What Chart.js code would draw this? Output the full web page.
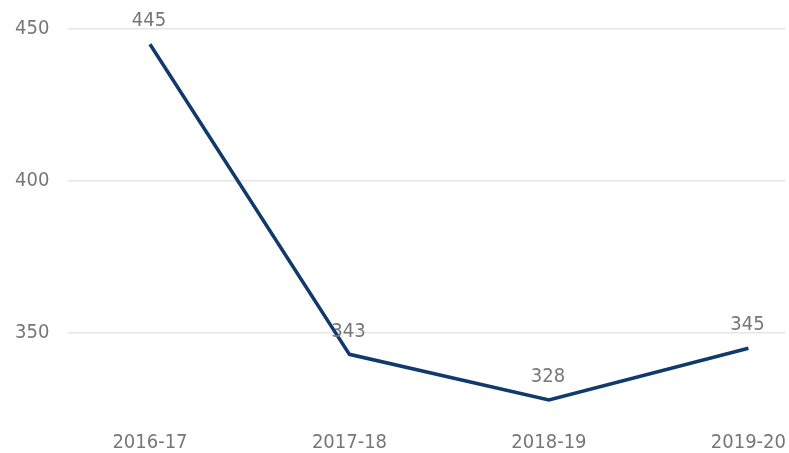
<!DOCTYPE html>
<html>
<head>
<meta charset="utf-8">
<script src="https://cdn.jsdelivr.net/npm/chart.js@4/dist/chart.umd.min.js"></script>
<style>
  html, body { margin: 0; padding: 0; background: #fff; }
  #wrap { width: 789px; height: 453px; }
</style>
</head>
<body>
<div id="wrap"><canvas id="chart"></canvas></div>
<script>
const categories = ["2016-17", "2017-18", "2018-19", "2019-20"];
const values = [445, 343, 328, 345];
const yTicks = [350, 400, 450];

const FONT = "'DejaVu Sans Condensed', 'DejaVu Sans', sans-serif";
const GREY = "#777777";

// value labels above each point
const valueLabels = {
  id: "valueLabels",
  afterDatasetsDraw(chart) {
    const ctx = chart.ctx;
    const meta = chart.getDatasetMeta(0);
    ctx.save();
    ctx.font = "20px " + FONT;
    ctx.fillStyle = GREY;
    ctx.textAlign = "center";
    ctx.textBaseline = "middle";
    meta.data.forEach((pt, i) => {
      ctx.fillText(String(values[i]), pt.x - 1, pt.y - 23);
    });
    ctx.restore();
  }
};

new Chart(document.getElementById("chart"), {
  type: "line",
  data: {
    datasets: [{
      data: values.map((v, i) => ({ x: i, y: v })),
      borderColor: "#0f3a6b",
      borderWidth: 3.5,
      pointRadius: 0,
      tension: 0,
      fill: false
    }]
  },
  options: {
    responsive: true,
    maintainAspectRatio: false,
    animation: false,
    layout: { padding: { top: 0, right: 0, bottom: 3, left: 15 } },
    plugins: { legend: { display: false }, tooltip: { enabled: false } },
    scales: {
      x: {
        type: "linear",
        min: -0.411,
        max: 3.183,
        grid: { display: false },
        border: { display: false },
        afterBuildTicks: (s) => { s.ticks = categories.map((c, i) => ({ value: i })); },
        afterFit: (s) => { s.height = 30; },
        ticks: {
          padding: 3,
          autoSkip: false,
          maxRotation: 0,
          color: GREY,
          font: { family: FONT, size: 20 },
          callback: (v) => categories[v]
        }
      },
      y: {
        min: 321.4,
        max: 455.6,
        afterBuildTicks: (s) => { s.ticks = yTicks.map(v => ({ value: v })); },
        afterFit: (s) => { s.width = 53; },
        grid: { color: "#e6e6e6", lineWidth: 1.5, drawTicks: false },
        border: { display: false },
        ticks: {
          padding: 0,
          crossAlign: "far",
          color: GREY,
          font: { family: FONT, size: 20 }
        }
      }
    }
  },
  plugins: [valueLabels]
});
</script>
</body>
</html>
